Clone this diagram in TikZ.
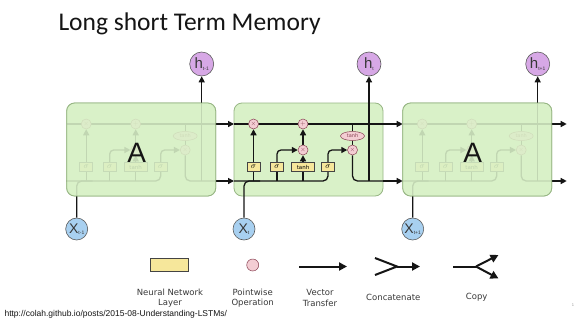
\documentclass[tikz,border=0pt]{standalone}
\usepackage{fontspec}
\setmainfont{Carlito}
\newfontfamily\legendfont{DejaVu Sans}
\newfontfamily\armfont{Liberation Sans}
\usetikzlibrary{arrows.meta,positioning,calc,shapes.geometric}
\definecolor{Ink}{HTML}{151515}
\definecolor{CellFill}{HTML}{D9F1C8}
\definecolor{CellEdge}{HTML}{97B684}
\definecolor{GateFill}{HTML}{F6E79B}
\definecolor{PointFill}{HTML}{F3CDD3}
\definecolor{PointEdge}{HTML}{8A4455}
\definecolor{HFill}{HTML}{D7A8E6}
\definecolor{XFill}{HTML}{A8D0F0}
\pgfdeclarelayer{paper}
\pgfdeclarelayer{back}
\pgfdeclarelayer{mid}
\pgfdeclarelayer{front}
\pgfsetlayers{paper,back,mid,main,front}
\tikzset{
  wire/.style={draw=Ink,line width=1.3pt},
  flow/.style={wire,-{Triangle[length=6pt,width=6pt]}},
  bigwire/.style={draw=Ink,line width=2pt,line join=miter},
  bigflow/.style={bigwire,-{Triangle[length=8pt,width=8pt]}},
  cellbox/.style={rounded corners=8pt,fill=CellFill,draw=CellEdge,line width=0.8pt,
    minimum width=149pt,minimum height=93pt,inner sep=0pt},
  gatebox/.style={draw=Ink!80,fill=GateFill,line width=0.5pt,minimum height=9pt,
    minimum width=13pt,inner sep=0pt,font=\fontsize{8}{8}\selectfont},
  pointop/.style={circle,draw=PointEdge,fill=PointFill,line width=0.5pt,minimum size=10pt,
    inner sep=0pt,text=PointEdge,font=\fontsize{6}{6}\selectfont},
  tanhop/.style={ellipse,draw=PointEdge,fill=PointFill,line width=0.5pt,minimum width=24pt,
    minimum height=9pt,inner sep=0pt,text=PointEdge,font=\legendfont\fontsize{5}{5}\selectfont},
  hstate/.style={circle,draw=Ink!70,fill=HFill,line width=0.6pt,minimum size=24pt,inner sep=0pt,
    text=Ink!85,font=\armfont\fontsize{15}{15}\selectfont},
  xstate/.style={circle,draw=Ink!70,fill=XFill,line width=0.6pt,minimum size=22pt,inner sep=0pt,
    text=Ink!85,font=\armfont\fontsize{14}{14}\selectfont},
  legtext/.style={align=center,text=Ink!85,font=\legendfont\fontsize{8.5}{10.5}\selectfont}
}
\newcommand{\Sub}[1]{\raisebox{-1.5pt}{\fontsize{5}{5}\selectfont#1}}
\newcommand{\LSTMCell}[4]{%
\begin{scope}[shift={(#2,0)}]
  \begin{pgfonlayer}{back}
    \node[cellbox] (box#1) at (74.5,149.5) {};
  \end{pgfonlayer}
  \coordinate (cin#1) at (0,124);
  \coordinate (cout#1) at (149,124);
  \coordinate (hin#1) at (0,181);
  \coordinate (hout#1) at (149,181);
  \coordinate (hv#1) at (135,181);
  \coordinate (xj#1) at (26,181);
  \node[pointop] (mf#1) at (19.5,124) {$\times$};
  \node[pointop] (add#1) at (69,124) {$+$};
  \node[pointop] (mi#1) at (69,150) {$\times$};
  \node[pointop] (mo#1) at (118.5,150) {$\times$};
  \node[tanhop] (tc#1) at (118.5,136) {tanh};
  \node[gatebox] (gf#1) at (19.5,167) {$\sigma$};
  \node[gatebox] (gi#1) at (43,167) {$\sigma$};
  \node[gatebox,minimum width=23pt,font=\legendfont\fontsize{5.5}{5.5}\selectfont] (gc#1) at (69,167) {tanh};
  \node[gatebox] (go#1) at (94,167) {$\sigma$};
  \node[hstate] (h#1) at (135,64) {h\Sub{#4}};
  \node[xstate] (x#1) at (10,229) {X\Sub{#4}};
  \begin{pgfonlayer}{mid}
    \draw[wire] (cin#1) -- (cout#1);
    \draw[wire,rounded corners=5pt] (hin#1) -| (go#1.south);
    \foreach \g in {gf,gi,gc}
      \draw[wire] (\g#1 |- hin#1) -- (\g#1.south);
    \draw[wire,rounded corners=5pt] (x#1.north) |- (xj#1);
    \draw[flow] (gf#1.north) -- (mf#1.south);
    \draw[flow,rounded corners=4pt] (gi#1.north) |- (mi#1.west);
    \draw[flow] (gc#1.north) -- (mi#1.south);
    \draw[flow] (mi#1.north) -- (add#1.south);
    \draw[flow,rounded corners=4pt] (go#1.north) |- (mo#1.west);
    \draw[wire] (mo#1 |- cin#1) -- (tc#1.north);
    \draw[wire] (tc#1.south) -- (mo#1.north);
    \draw[wire,rounded corners=5pt] (mo#1.south) |- (hout#1);
    \draw[flow] (hv#1) -- (h#1.south);
  \end{pgfonlayer}
  \ifnum#3=1\relax
  \begin{pgfonlayer}{front}
    \node[cellbox,fill opacity=0.88] at (74.5,149.5) {};
    \node[font=\armfont\fontsize{28}{28}\selectfont,text=Ink] (A#1) at (70,153) {A};
  \end{pgfonlayer}
  \fi
\end{scope}}

\begin{document}
\begin{tikzpicture}[x=1pt,y=-1pt]
\begin{pgfonlayer}{paper}
  \fill[white] (0,0) rectangle (577,324);
\end{pgfonlayer}
\useasboundingbox (0,0) rectangle (577,324);
\node[anchor=base west,font=\fontsize{25.5}{25.5}\selectfont,text=Ink] (title) at (55,30) {Long short Term Memory};
\LSTMCell{0}{66.7}{1}{t-1}
\LSTMCell{1}{234}{0}{t}
\LSTMCell{2}{402.7}{1}{t+1}
\coordinate (endc) at (566.7,124);
\coordinate (endh) at (566.7,181);
\draw[flow] (cout0) -- (cin1);
\draw[flow] (hout0) -- (hin1);
\draw[flow] (cout1) -- (cin2);
\draw[flow] (hout1) -- (hin2);
\draw[flow] (cout2) -- (endc);
\draw[flow] (hout2) -- (endh);
\node[gatebox,minimum width=38pt,minimum height=13pt] (legnn) at (169,265) {};
\node[pointop,minimum size=12pt] (legpw) at (252.7,265) {};
\coordinate (vt-a) at (299,266.5);
\coordinate (vt-b) at (347,266.5);
\draw[bigflow] (vt-a) -- (vt-b);
\coordinate (cc-u) at (375,258);
\coordinate (cc-d) at (375,275);
\coordinate (cc-m) at (397,266.5);
\coordinate (cc-e) at (420,266.5);
\draw[bigwire] (cc-u) -- (cc-m) -- (cc-d);
\draw[bigflow] (cc-m) -- (cc-e);
\coordinate (cp-s) at (453,266.5);
\coordinate (cp-m) at (476,266.5);
\coordinate (cp-u) at (498.5,255);
\coordinate (cp-d) at (498.5,278.5);
\draw[bigwire] (cp-s) -- (cp-m);
\draw[bigflow] (cp-m) -- (cp-u);
\draw[bigflow] (cp-m) -- (cp-d);
\node[legtext] (lab-nn) at (170,298) {Neural Network\\Layer};
\node[legtext] (lab-pw) at (252.7,298) {Pointwise\\Operation};
\node[legtext] (lab-vt) at (320,298) {Vector\\Transfer};
\node[legtext] (lab-cc) at (393.3,297) {Concatenate};
\node[legtext] (lab-cp) at (476.7,297) {Copy};
\node[anchor=base west,font=\armfont\fontsize{8.5}{8.5}\selectfont,text=Ink] (src) at (1,316.5) {http://colah.github.io/posts/2015-08-Understanding-LSTMs/};
\node[font=\armfont\fontsize{4}{4}\selectfont,text=black!40] (pg) at (573,305) {1};
\end{tikzpicture}
\end{document}
